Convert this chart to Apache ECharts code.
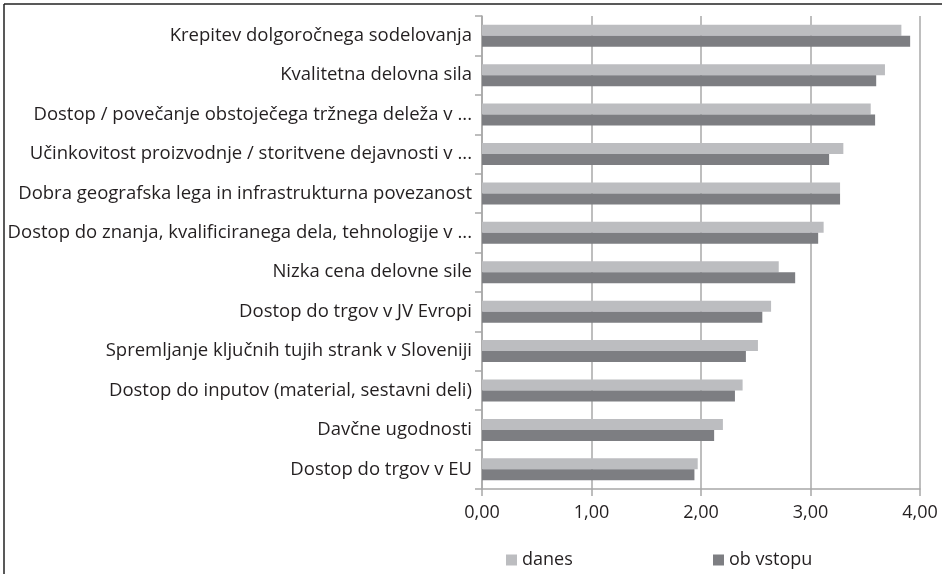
<!DOCTYPE html>
<html><head><meta charset="utf-8">
<script src="https://cdn.jsdelivr.net/npm/echarts@6/dist/echarts.min.js"></script>
<style>html,body{margin:0;padding:0;background:#fff}#c{width:942px;height:574px}</style>
</head><body><div id="c"></div>
<script>
const categories = [
  'Krepitev dolgoročnega sodelovanja',
  'Kvalitetna delovna sila',
  'Dostop / povečanje obstoječega tržnega deleža v ...',
  'Učinkovitost proizvodnje / storitvene dejavnosti v ...',
  'Dobra geografska lega in infrastrukturna povezanost',
  'Dostop do znanja, kvalificiranega dela, tehnologije v ...',
  'Nizka cena delovne sile',
  'Dostop do trgov v JV Evropi',
  'Spremljanje ključnih tujih strank v Sloveniji',
  'Dostop do inputov (material, sestavni deli)',
  'Davčne ugodnosti',
  'Dostop do trgov v EU'
];
const danes    = [3.83, 3.68, 3.55, 3.30, 3.27, 3.12, 2.71, 2.64, 2.52, 2.38, 2.20, 1.97];
const obVstopu = [3.91, 3.60, 3.59, 3.17, 3.27, 3.07, 2.86, 2.56, 2.41, 2.31, 2.12, 1.94];
const xTicks = [0, 1, 2, 3, 4];

const FONT = 'Open Sans';
const TXT = '#231f20';
const chart = echarts.init(document.getElementById('c'));
chart.setOption({
  animation: false,
  textStyle: { fontFamily: FONT },
  grid: { left: 482, right: 22, top: 16, bottom: 85, containLabel: false },
  legend: [
    { data: ['danes'], left: 501, top: 546, itemWidth: 11, itemHeight: 11, icon: 'rect',
      textStyle: { fontFamily: FONT, fontSize: 18, color: TXT } },
    { data: ['ob vstopu'], left: 708, top: 546, itemWidth: 11, itemHeight: 11, icon: 'rect',
      textStyle: { fontFamily: FONT, fontSize: 18, color: TXT } }
  ],
  xAxis: {
    type: 'value', min: xTicks[0], max: xTicks[xTicks.length - 1], interval: 1,
    axisLine: { show: true, lineStyle: { color: '#a8a8a8', width: 1.5 } },
    axisTick: { show: true, length: 7, lineStyle: { color: '#a8a8a8', width: 1.5 } },
    splitLine: { show: true, lineStyle: { color: '#a8a8a8', width: 1.5 } },
    axisLabel: { margin: 15, fontFamily: FONT, fontSize: 18, color: TXT,
      formatter: v => v.toFixed(2).replace('.', ',') }
  },
  yAxis: {
    type: 'category', data: categories, inverse: true,
    axisLine: { show: true, lineStyle: { color: '#a8a8a8', width: 1.5 } },
    axisTick: { show: true, length: 7, lineStyle: { color: '#a8a8a8', width: 1.5 } },
    axisLabel: { margin: 10, fontFamily: FONT, fontSize: 18.5, color: TXT }
  },
  series: [
    { name: 'danes', type: 'bar', data: danes, barWidth: 11, barGap: '0%',
      itemStyle: { color: '#bcbdc0' } },
    { name: 'ob vstopu', type: 'bar', data: obVstopu, barWidth: 11, barGap: '0%',
      itemStyle: { color: '#7d7e82' } }
  ],
  graphic: [
    { type: 'line', shape: { x1: 4, y1: 4, x2: 942, y2: 4 }, style: { stroke: '#222', lineWidth: 1.5 } },
    { type: 'line', shape: { x1: 4, y1: 4, x2: 4, y2: 574 }, style: { stroke: '#222', lineWidth: 1.5 } }
  ]
});
</script></body></html>
